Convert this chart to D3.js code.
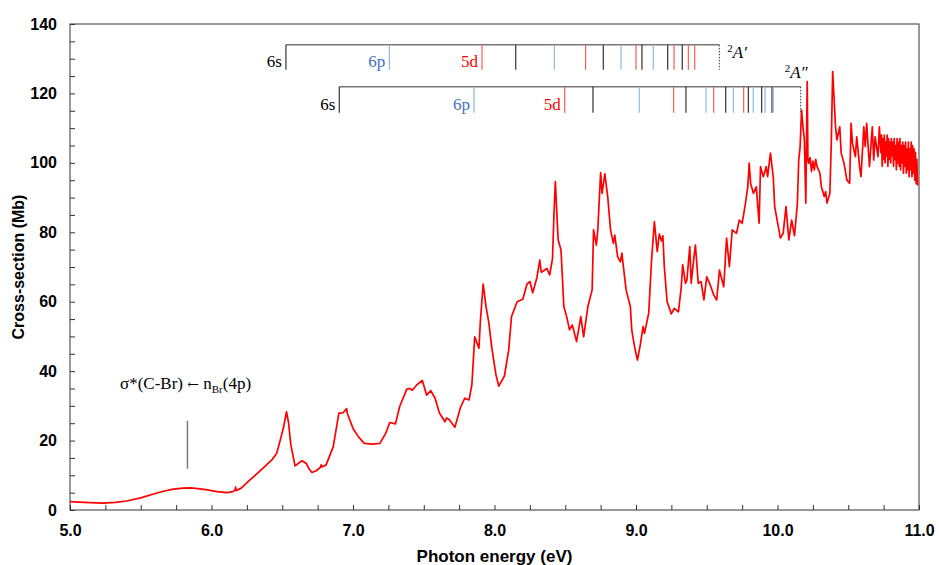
<!DOCTYPE html>
<html>
<head>
<meta charset="utf-8">
<script src="https://cdn.jsdelivr.net/npm/d3@7"></script>
<style>
  body { margin: 0; background: #fff; }
  svg { display: block; }
</style>
</head>
<body>
<svg id="chart"></svg>
<script>
// Absorption spectrum: photon energy (eV) vs cross-section (Mb)
const energy = [
  5.00, 5.10, 5.23, 5.32, 5.40, 5.50, 5.59, 5.66, 5.73, 5.80, 5.85, 5.92, 5.97, 6.04, 6.11, 6.15, 6.165, 6.17, 6.175, 6.21,
  6.27, 6.32, 6.37, 6.43, 6.46, 6.48, 6.51, 6.53, 6.545, 6.56, 6.59, 6.62, 6.64, 6.67, 6.69, 6.71, 6.74, 6.77, 6.775, 6.78,
  6.81, 6.86, 6.88, 6.90, 6.93, 6.955, 6.96, 7.00, 7.04, 7.08, 7.14, 7.19, 7.23, 7.26, 7.30, 7.33, 7.38, 7.40, 7.42, 7.45,
  7.49, 7.52, 7.55, 7.58, 7.61, 7.65, 7.66, 7.68, 7.72, 7.76, 7.79, 7.82, 7.84, 7.86, 7.89, 7.90, 7.92, 7.94, 7.96, 7.98,
  8.01, 8.03, 8.07, 8.10, 8.12, 8.16, 8.20, 8.23, 8.25, 8.27, 8.30, 8.32, 8.33, 8.34, 8.37, 8.39, 8.41, 8.42, 8.43, 8.44,
  8.45, 8.47, 8.49, 8.51, 8.53, 8.55, 8.58, 8.61, 8.63, 8.66, 8.69, 8.70, 8.72, 8.73, 8.75, 8.76, 8.78, 8.80, 8.82, 8.84,
  8.85, 8.87, 8.89, 8.90, 8.93, 8.96, 8.97, 8.99, 9.01, 9.03, 9.05, 9.06, 9.09, 9.11, 9.13, 9.15, 9.165, 9.18, 9.19, 9.20,
  9.22, 9.25, 9.27, 9.30, 9.32, 9.33, 9.35, 9.36, 9.38, 9.39, 9.41, 9.42, 9.44, 9.46, 9.48, 9.50, 9.52, 9.55, 9.57, 9.59,
  9.62, 9.64, 9.66, 9.68, 9.71, 9.73, 9.75, 9.77, 9.79, 9.80, 9.81, 9.83, 9.85, 9.87, 9.88, 9.90, 9.92, 9.93, 9.95, 9.97,
  9.98, 10.01, 10.02, 10.04, 10.06, 10.08, 10.10, 10.12, 10.14, 10.15, 10.16, 10.17, 10.18, 10.19, 10.20, 10.21, 10.215, 10.22, 10.23, 10.24,
  10.25, 10.26, 10.27, 10.28, 10.30, 10.31, 10.33, 10.34, 10.35, 10.37, 10.38, 10.39, 10.41, 10.42, 10.44, 10.45, 10.47, 10.49, 10.51, 10.52,
  10.53, 10.55, 10.56, 10.58, 10.59, 10.61, 10.62, 10.63, 10.65, 10.67, 10.68, 10.69, 10.71, 10.72,
  10.730, 10.735, 10.740, 10.745, 10.750, 10.755, 10.760, 10.765, 10.770, 10.775, 10.780, 10.785, 10.790, 10.795, 10.800, 10.805, 10.810, 10.815,
  10.820, 10.825, 10.830, 10.835, 10.840, 10.845, 10.850, 10.855, 10.860, 10.865, 10.870, 10.875, 10.880, 10.885, 10.890, 10.895, 10.900, 10.905,
  10.910, 10.915, 10.920, 10.925, 10.930, 10.935, 10.940, 10.945, 10.950, 10.955, 10.960, 10.965, 10.970, 10.975, 10.980, 10.985, 10.990
];
const crossSection = [
  2.4, 2.2, 2.0, 2.2, 2.6, 3.5, 4.6, 5.4, 6.0, 6.3, 6.4, 6.1, 5.8, 5.3, 5.0, 5.3, 5.6, 6.6, 5.6, 6.3,
  8.6, 10.4, 12.3, 14.6, 16.3, 19.2, 24, 28.3, 25, 19, 12.7, 13.6, 14.2, 13.4, 11.8, 10.8, 11.3, 12.3, 13.0, 12.4,
  13, 18.2, 23, 27.9, 28, 29.2, 27.8, 23.5, 21, 19.2, 19.0, 19.2, 22, 25.2, 24.8, 29.8, 34.8, 35, 34.5, 36,
  37.3, 33.1, 34.4, 32.2, 28, 25.4, 26.5, 26.1, 23.8, 29.6, 32.2, 31.7, 36, 49.9, 46.6, 54.3, 65.1, 58.6, 54, 47,
  39, 35.7, 38.6, 46, 55.7, 60, 60.7, 65.1, 65.8, 62.6, 67, 72, 68.5, 68.7, 69.6, 67.7, 72.5, 85, 94.6, 86,
  77.8, 74.9, 58.6, 55.7, 51.9, 53.3, 48.5, 55.7, 49.9, 58.6, 63.4, 80.7, 76.3, 80.7, 97.2, 91.2, 96.8, 90.3, 80.7, 76.8,
  79.2, 73, 71.5, 74, 63.4, 58.6, 51.9, 47, 43.2, 47.5, 52.8, 50.9, 56.7, 72, 83.1, 74.4, 79.5, 77.5, 79, 70.1,
  60, 56.5, 58.1, 57.1, 64.3, 70.6, 65.3, 66.3, 75.9, 65.3, 73, 76.3, 65.3, 65.8, 60.5, 67.2, 65.3, 61.9, 60.5, 69.1,
  64.3, 78.3, 70.1, 80.7, 79.7, 83.5, 82.6, 87.4, 93.1, 99.9, 94.1, 91.2, 93.1, 82.6, 98.9, 96, 98.9, 96, 102.8, 96,
  87.4, 80.7, 78.3, 79.7, 87.4, 77.8, 83.5, 79, 88, 100.8, 104.7, 115.2, 110.4, 106.6, 88.4, 123.4, 100.8, 99.9, 101.5, 97.5,
  100.5, 98, 101, 98.9, 97, 93.1, 90.3, 91.7, 88.4, 91.2, 105.6, 126.3, 110.4, 106.6, 110.4, 102.8, 99.9, 95.1, 94.1, 111.4,
  105.6, 101.8, 107.5, 98.9, 96, 110.4, 104.7, 111.4, 98.9, 110.4, 100.8, 107.5, 101.8, 110.4,
  103, 108, 99, 107, 101, 108, 100, 106, 102, 108, 99, 107, 101, 106, 100, 107, 102, 106,
  99, 107, 101, 105, 98, 107, 100, 106, 99, 107, 98, 105, 100, 106, 97, 105, 99, 106,
  97, 104, 98, 106, 96, 104, 98, 106, 96, 105, 97, 104, 95, 103, 94, 101, 93.5
];

// Rydberg series assignments (eV) converging to the two ionic states
const seriesA1Energy = [6.526, 7.257, 7.912, 8.150, 8.423, 8.644, 8.769, 8.894, 9.000, 9.042, 9.122, 9.224, 9.269, 9.327, 9.370, 9.415];
const seriesA1Type = ['s', 'p', 'd', 's', 'p', 'd', 's', 'p', 'd', 's', 'p', 's', 'd', 's', 'd', 'd'];
const seriesA1Limit = 9.589;
const seriesA2Energy = [6.903, 7.855, 8.496, 8.696, 9.023, 9.266, 9.353, 9.495, 9.549, 9.634, 9.688, 9.761, 9.794, 9.829, 9.888, 9.912, 9.961, 9.970];
const seriesA2Type = ['s', 'p', 'd', 's', 'p', 'd', 's', 'p', 'd', 's', 'p', 'd', 's', 'p', 's', 'p', 's', 'p'];
const seriesA2Limit = 10.164;
const firstLabels = { s: '6s', p: '6p', d: '5d' };

// Valence transition marker
const valenceEnergy = 5.83;

const xTicks = d3.range(5, 11.001, 0.25);
const yTicks = d3.range(0, 140.1, 5);

const width = 939;
const height = 565;
const marginTop = 24;
const marginRight = 20;
const marginBottom = 55;
const marginLeft = 70;

const lineColors = { s: '#333333', p: '#8db9e3', d: '#ff5a5a' };
const labelColors = { s: '#000000', p: '#4472c4', d: '#ff0000' };

const svg = d3.select('#chart')
  .attr('width', width)
  .attr('height', height)
  .attr('viewBox', [0, 0, width, height]);

const x = d3.scaleLinear([5, 11], [marginLeft, width - marginRight]);
const y = d3.scaleLinear([0, 140], [height - marginBottom, marginTop]);

const sans = '"Liberation Sans", Arial, sans-serif';
const serif = '"Liberation Serif", "Times New Roman", serif';

// X axis (ticks point inward)
svg.append('g')
  .attr('transform', `translate(0,${y(0)})`)
  .call(d3.axisBottom(x)
    .tickValues(xTicks)
    .tickSize(-5)
    .tickPadding(15)
    .tickFormat(d => Math.abs(d - Math.round(d)) < 1e-6 ? d3.format('.1f')(d) : ''))
  .call(g => g.select('.domain').remove())
  .call(g => g.selectAll('.tick line').attr('stroke', '#333'))
  .call(g => g.selectAll('.tick text')
    .attr('font-family', sans)
    .attr('font-weight', 'bold')
    .attr('font-size', 16)
    .attr('fill', '#000'));

// Y axis
svg.append('g')
  .attr('transform', `translate(${marginLeft},0)`)
  .call(d3.axisLeft(y)
    .tickValues(yTicks)
    .tickSize(-5)
    .tickPadding(13)
    .tickFormat(d => d % 20 === 0 ? d : ''))
  .call(g => g.select('.domain').remove())
  .call(g => g.selectAll('.tick line').attr('stroke', '#333'))
  .call(g => g.selectAll('.tick text')
    .attr('font-family', sans)
    .attr('font-weight', 'bold')
    .attr('font-size', 16)
    .attr('fill', '#000'));

// Frame
svg.append('rect')
  .attr('x', x(5))
  .attr('y', y(140))
  .attr('width', x(11) - x(5))
  .attr('height', y(0) - y(140))
  .attr('fill', 'none')
  .attr('stroke', '#333')
  .attr('stroke-width', 1);

// Axis titles
svg.append('text')
  .attr('x', (x(5) + x(11)) / 2)
  .attr('y', 562)
  .attr('text-anchor', 'middle')
  .attr('font-family', sans)
  .attr('font-weight', 'bold')
  .attr('font-size', 17)
  .text('Photon energy (eV)');

svg.append('text')
  .attr('transform', `translate(24,${(y(0) + y(140)) / 2}) rotate(-90)`)
  .attr('text-anchor', 'middle')
  .attr('font-family', sans)
  .attr('font-weight', 'bold')
  .attr('font-size', 16)
  .text('Cross-section (Mb)');

// Spectrum
const line = d3.line()
  .x((d, i) => x(energy[i]))
  .y((d, i) => y(crossSection[i]));

svg.append('path')
  .datum(energy)
  .attr('fill', 'none')
  .attr('stroke', '#ff0000')
  .attr('stroke-width', 1.7)
  .attr('stroke-linejoin', 'round')
  .attr('d', line);

// Valence band annotation
svg.append('line')
  .attr('x1', x(valenceEnergy))
  .attr('x2', x(valenceEnergy))
  .attr('y1', y(25.7))
  .attr('y2', y(11.9))
  .attr('stroke', '#777')
  .attr('stroke-width', 1.5);

const valText = svg.append('text')
  .attr('x', 120)
  .attr('y', 389)
  .attr('font-family', serif)
  .attr('font-size', 17)
  .attr('fill', '#000');
valText.append('tspan').text('σ*(C-Br) ');
valText.append('tspan').attr('font-family', '"DejaVu Serif", serif').attr('font-size', 14).text('←');
valText.append('tspan').text(' n');
valText.append('tspan').attr('font-size', 11).attr('dy', 4).text('Br');
valText.append('tspan').attr('dy', -4).text('(4p)');

// Rydberg combs
function drawComb(energies, types, limit, top, bottom, label, labelDx, labelY) {
  const g = svg.append('g');
  g.append('line')
    .attr('x1', x(energies[0]))
    .attr('x2', x(limit))
    .attr('y1', y(top))
    .attr('y2', y(top))
    .attr('stroke', '#333')
    .attr('stroke-width', 1);

  g.selectAll('line.tick')
    .data(energies)
    .join('line')
      .attr('class', 'tick')
      .attr('x1', d => x(d))
      .attr('x2', d => x(d))
      .attr('y1', y(top))
      .attr('y2', y(bottom))
      .attr('stroke', (d, i) => lineColors[types[i]])
      .attr('stroke-width', 1.2);

  g.append('line')
    .attr('x1', x(limit))
    .attr('x2', x(limit))
    .attr('y1', y(top))
    .attr('y2', y(bottom))
    .attr('stroke', '#333')
    .attr('stroke-dasharray', '1.5,1.5');

  // first member of each series gets a label
  const seen = {};
  energies.forEach((e, i) => {
    const t = types[i];
    if (seen[t]) return;
    seen[t] = true;
    g.append('text')
      .attr('x', x(e) - 4)
      .attr('y', y(bottom) - 3)
      .attr('text-anchor', 'end')
      .attr('font-family', serif)
      .attr('font-size', 17)
      .attr('fill', labelColors[t])
      .text(firstLabels[t]);
  });

  const lab = g.append('text')
    .attr('x', x(limit) + labelDx)
    .attr('y', labelY)
    .attr('font-family', serif)
    .attr('font-size', 17)
    .attr('fill', '#000');
  lab.append('tspan').attr('font-size', 11).attr('dy', -6).text('2');
  lab.append('tspan').attr('dy', 6).attr('font-style', 'italic').text('A');
  lab.append('tspan').attr('font-style', 'italic').text(label);
}

drawComb(seriesA1Energy, seriesA1Type, seriesA1Limit, 134, 126.8, '\u2032', 8, 58);
drawComb(seriesA2Energy, seriesA2Type, seriesA2Limit, 121.9, 114.4, '\u2033', -16, 78);
</script>
</body>
</html>
